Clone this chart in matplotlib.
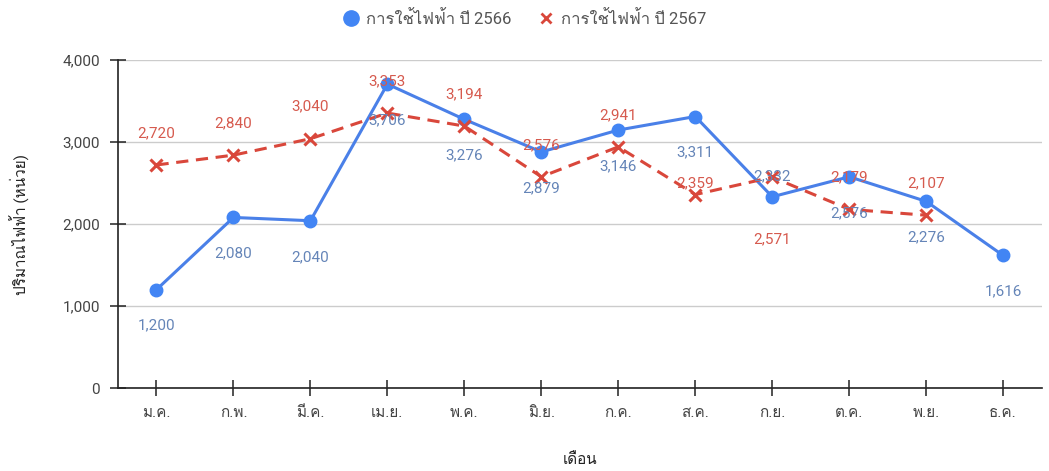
import numpy as np
import matplotlib
matplotlib.use("Agg")
import matplotlib.pyplot as plt
from matplotlib import font_manager
from matplotlib.ft2font import FT2Font
from matplotlib.lines import Line2D

# =========================================================
# DATA
# =========================================================

months = ["ม.ค.", "ก.พ.", "มี.ค.", "เม.ย.", "พ.ค.", "มิ.ย.",
          "ก.ค.", "ส.ค.", "ก.ย.", "ต.ค.", "พ.ย.", "ธ.ค."]

use_2566 = [1200, 2080, 2040, 3706, 3276, 2879,
            3146, 3311, 2332, 2576, 2276, 1616]

use_2567 = [2720, 2840, 3040, 3353, 3194, 2576,
            2941, 2359, 2571, 2179, 2107]

label_2566 = "การใช้ไฟฟ้า ปี 2566"
label_2567 = "การใช้ไฟฟ้า ปี 2567"
y_title = "ปริมาณไฟฟ้า (หน่วย)"
x_title = "เดือน"
y_ticks = [0, 1000, 2000, 3000, 4000]

# label offsets (points): blue below, red above, a few nudged like the original
off_2566 = [-26] * len(use_2566)
off_2567 = [23] * len(use_2567)
off_2566[8] = 15     # ก.ย. label pushed above the point
off_2567[7] = 8      # ส.ค.
off_2567[8] = -45    # ก.ย. label pushed below

# =========================================================
# FONT WITH THAI GLYPHS
# =========================================================

def find_thai_font():
    for f in font_manager.fontManager.ttflist:
        try:
            if 0x0E01 in FT2Font(f.fname).get_charmap():
                return f.name
        except Exception:
            pass
    return "DejaVu Sans"

thai_font = find_thai_font()
plt.rcParams["font.family"] = ["Roboto", thai_font, "DejaVu Sans"]

# =========================================================
# PLOT
# =========================================================

blue = "#4a80e8"
blue_text = "#6585b8"
red = "#d9473b"
red_text = "#d65a4e"
text_col = "#555555"

fig = plt.figure(figsize=(10.49, 4.71), dpi=100)
ax = fig.add_axes([0.1125, 0.1762, 0.8805, 0.6964])

x1 = np.arange(len(use_2566))
x2 = np.arange(len(use_2567))

ax.plot(x1, use_2566, color=blue, linewidth=2.2, marker="o",
        markersize=9, markerfacecolor="#4285f4", markeredgecolor="#4285f4",
        zorder=3)
ax.plot(x2, use_2567, color=red, linewidth=2.2, linestyle=(0, (4, 2.5)),
        marker="x", markersize=8, markeredgewidth=2.2, zorder=4)

for xi, v, off in zip(x1, use_2566, off_2566):
    ax.annotate(f"{v:,}", (xi, v), xytext=(0, off), textcoords="offset points",
                ha="center", va="center", fontsize=11, color=blue_text, zorder=5)

for xi, v, off in zip(x2, use_2567, off_2567):
    ax.annotate(f"{v:,}", (xi, v), xytext=(0, off), textcoords="offset points",
                ha="center", va="center", fontsize=11, color=red_text, zorder=5)

ax.set_xlim(-0.5, len(months) - 0.5)
ax.set_ylim(0, 4000)
ax.set_xticks(x1)
ax.set_xticklabels(months)
ax.set_yticks(y_ticks)
ax.set_yticklabels([f"{t:,}" for t in y_ticks])

ax.grid(axis="y", color="#cccccc", linewidth=1)
ax.set_axisbelow(True)

for s in ["top", "right"]:
    ax.spines[s].set_visible(False)
for s in ["left", "bottom"]:
    ax.spines[s].set_color("#222222")
    ax.spines[s].set_linewidth(1.2)

ax.tick_params(axis="both", direction="inout", length=12, width=1.1,
               color="#222222", labelcolor="#444444", labelsize=11, pad=7)

ax.set_ylabel(y_title, fontsize=11, color="#222222", labelpad=23)
ax.set_xlabel(x_title, fontsize=11, color="#222222", labelpad=24)

handles = [
    Line2D([], [], linestyle="none", marker="o", markersize=11,
           color="#4285f4", label=label_2566),
    Line2D([], [], linestyle="none", marker="x", markersize=7,
           markeredgewidth=2, color=red, label=label_2567),
]
fig.legend(handles=handles, loc="upper center", bbox_to_anchor=(0.5, 1.01),
           ncol=2, frameon=False, fontsize=12, labelcolor=text_col,
           handlelength=1.0, columnspacing=1.6, handletextpad=0.4)

fig.savefig("out.png", dpi=100)
